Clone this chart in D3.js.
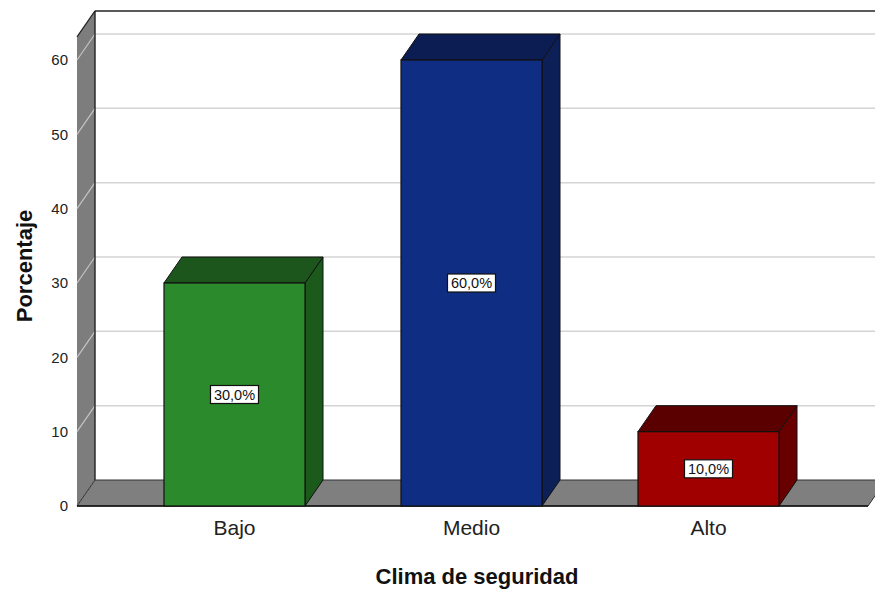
<!DOCTYPE html>
<html>
<head>
<meta charset="utf-8">
<script src="https://cdn.jsdelivr.net/npm/d3@7/dist/d3.min.js"></script>
<style>
  body { margin: 0; background: #fff; }
  svg { display: block; font-family: Arial, "Liberation Sans", sans-serif; }
</style>
</head>
<body>
<svg id="chart" width="875" height="590"></svg>
<script>
// Clima de seguridad: distribución porcentual
const categories = ["Bajo", "Medio", "Alto"];
const percentages = [30, 60, 10];
const valueLabels = ["30,0%", "60,0%", "10,0%"];
const yTicks = [0, 10, 20, 30, 40, 50, 60];
const frontColors = ["#2b8a2b", "#102d84", "#a00000"];
const topColors = ["#1d561d", "#0b1d52", "#5a0000"];
const sideColors = ["#1b5a1b", "#0c1f57", "#680000"];

const svg = d3.select("#chart");

// 3D depth offset of the walls and bars
const DX = 18, DY = -26;
const yTop = 63.1;

const x = d3.scaleBand()
  .domain(categories)
  .range([116, 827])
  .paddingInner(0.405)
  .paddingOuter(0.2025);

const y = d3.scaleLinear().domain([0, 60]).range([506, 60]);

const leftX = 77, rightX = 868;
const line = d3.line();

// back wall
svg.append("rect")
  .attr("x", leftX + DX).attr("y", y(yTop) + DY)
  .attr("width", rightX - leftX + 10).attr("height", y(0) - y(yTop))
  .attr("fill", "#ffffff");

// left wall
svg.append("path")
  .attr("d", line([[leftX, y(0)], [leftX, y(yTop)], [leftX + DX, y(yTop) + DY], [leftX + DX, y(0) + DY]]) + "Z")
  .attr("fill", "#7d7d7d");

// gridlines on back wall and across the left wall
yTicks.filter(v => v > 0).forEach(v => {
  svg.append("line")
    .attr("x1", leftX + DX).attr("x2", 875)
    .attr("y1", y(v) + DY).attr("y2", y(v) + DY)
    .attr("stroke", "#d4d4d4").attr("stroke-width", 1.5);
  svg.append("line")
    .attr("x1", leftX).attr("x2", leftX + DX)
    .attr("y1", y(v)).attr("y2", y(v) + DY)
    .attr("stroke", "#c4c4c4").attr("stroke-width", 1.2);
});

// top border of back wall and its left edge
svg.append("line")
  .attr("x1", leftX + DX).attr("x2", 875)
  .attr("y1", y(yTop) + DY).attr("y2", y(yTop) + DY)
  .attr("stroke", "#222").attr("stroke-width", 1.6);
svg.append("line")
  .attr("x1", leftX).attr("x2", leftX + DX)
  .attr("y1", y(yTop)).attr("y2", y(yTop) + DY)
  .attr("stroke", "#222").attr("stroke-width", 1.2);
svg.append("line")
  .attr("x1", leftX + DX).attr("x2", leftX + DX)
  .attr("y1", y(yTop) + DY).attr("y2", y(0) + DY)
  .attr("stroke", "#222").attr("stroke-width", 1.4);

// floor
svg.append("path")
  .attr("d", line([[leftX, y(0)], [rightX, y(0)], [rightX + DX, y(0) + DY], [leftX + DX, y(0) + DY]]) + "Z")
  .attr("fill", "#7f7f7f")
  .attr("stroke", "#333").attr("stroke-width", 1);
svg.append("line")
  .attr("x1", leftX).attr("x2", rightX)
  .attr("y1", y(0)).attr("y2", y(0))
  .attr("stroke", "#111").attr("stroke-width", 1.6);

// bars
const bars = svg.append("g").selectAll("g")
  .data(categories.map((c, i) => ({ c, v: percentages[i], i })))
  .join("g");

bars.append("path") // side face
  .attr("d", d => {
    const x1 = x(d.c) + x.bandwidth();
    return line([[x1, y(0)], [x1, y(d.v)], [x1 + DX, y(d.v) + DY], [x1 + DX, y(0) + DY]]) + "Z";
  })
  .attr("fill", d => sideColors[d.i])
  .attr("stroke", "#111").attr("stroke-width", 1).attr("stroke-linejoin", "round");

bars.append("path") // top face
  .attr("d", d => {
    const x0 = x(d.c), x1 = x0 + x.bandwidth();
    return line([[x0, y(d.v)], [x1, y(d.v)], [x1 + DX, y(d.v) + DY], [x0 + DX, y(d.v) + DY]]) + "Z";
  })
  .attr("fill", d => topColors[d.i])
  .attr("stroke", "#111").attr("stroke-width", 1).attr("stroke-linejoin", "round");

bars.append("rect") // front face
  .attr("x", d => x(d.c))
  .attr("y", d => y(d.v))
  .attr("width", x.bandwidth())
  .attr("height", d => y(0) - y(d.v))
  .attr("fill", d => frontColors[d.i])
  .attr("stroke", "#111").attr("stroke-width", 1.2);

// value labels
const labels = bars.append("g")
  .attr("transform", d => `translate(${x(d.c) + x.bandwidth() / 2},${(y(d.v) + y(0)) / 2})`);
labels.append("rect")
  .attr("x", -24).attr("y", -9).attr("width", 48).attr("height", 18)
  .attr("fill", "#fff").attr("stroke", "#111").attr("stroke-width", 1.2);
labels.append("text")
  .attr("text-anchor", "middle").attr("dy", "0.36em")
  .attr("font-size", 14.5).attr("fill", "#111")
  .text(d => valueLabels[d.i]);

// y axis labels
const yAxis = svg.append("g")
  .attr("transform", `translate(${leftX - 4},0)`)
  .call(d3.axisLeft(y).tickValues(yTicks).tickSize(0).tickPadding(5).tickFormat(d3.format("d")));
yAxis.select(".domain").remove();
yAxis.selectAll("text").attr("font-size", 15).attr("fill", "#222").attr("font-family", "Arial, 'Liberation Sans', sans-serif");

// x axis labels
const xAxis = svg.append("g")
  .attr("transform", `translate(0,${y(0)})`)
  .call(d3.axisBottom(x).tickSize(0).tickPadding(14));
xAxis.select(".domain").remove();
xAxis.selectAll("text").attr("font-size", 21).attr("fill", "#222").attr("font-family", "Arial, 'Liberation Sans', sans-serif");

// axis titles
svg.append("text")
  .attr("x", 477).attr("y", 584)
  .attr("text-anchor", "middle")
  .attr("font-size", 22).attr("font-weight", "bold").attr("fill", "#111")
  .text("Clima de seguridad");

svg.append("text")
  .attr("transform", "translate(32,266) rotate(-90)")
  .attr("text-anchor", "middle")
  .attr("font-size", 22).attr("font-weight", "bold").attr("fill", "#111")
  .text("Porcentaje");
</script>
</body>
</html>
